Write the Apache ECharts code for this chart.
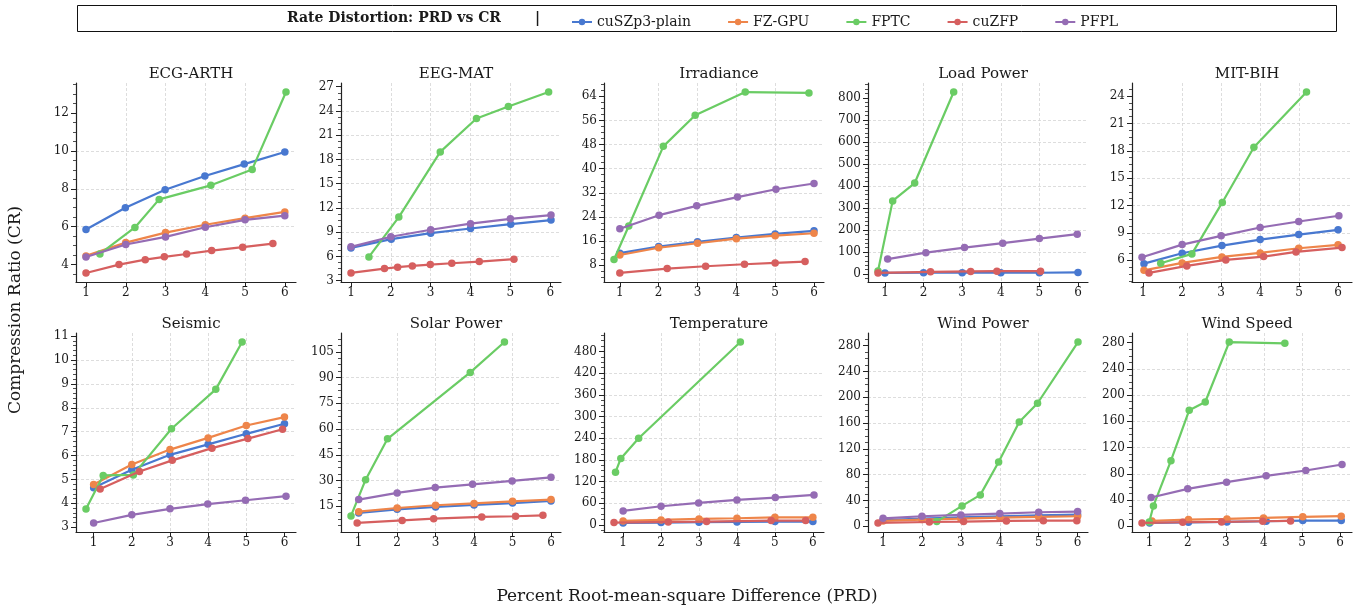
<!DOCTYPE html>
<html>
<head>
<meta charset="utf-8">
<script src="https://cdn.jsdelivr.net/npm/echarts@6/dist/echarts.min.js"></script>
<style>
  html, body { margin: 0; padding: 0; background: #ffffff; }
  #chart { width: 1354px; height: 611px; }
</style>
</head>
<body>
<div id="chart"></div>
<script>
// Compressors, in drawing order
const COMPRESSORS = ['cuSZp3-plain', 'FZ-GPU', 'FPTC', 'cuZFP', 'PFPL'];
const COLORS = ['#4878d0', '#ee854a', '#6acc64', '#d65f5f', '#956cb4'];

// Dataset names (panel titles)
const DATASETS = ['ECG-ARTH', 'EEG-MAT', 'Irradiance', 'Load Power', 'MIT-BIH',
                  'Seismic', 'Solar Power', 'Temperature', 'Wind Power', 'Wind Speed'];

// [PRD, CR] pairs per compressor, per dataset
const ecgArth = {
  'cuSZp3-plain': [[1.00, 5.85], [1.99, 7.00], [2.99, 7.95], [3.99, 8.67], [4.98, 9.30], [6.00, 9.94]],
  'FZ-GPU':       [[1.00, 4.46], [2.00, 5.16], [3.00, 5.69], [4.00, 6.10], [5.00, 6.45], [6.00, 6.78]],
  'FPTC':         [[1.35, 4.56], [2.23, 5.96], [2.84, 7.44], [4.14, 8.18], [5.18, 9.02], [6.03, 13.10]],
  'cuZFP':        [[1.00, 3.56], [1.83, 4.00], [2.49, 4.26], [2.97, 4.41], [3.53, 4.56], [4.16, 4.74], [4.94, 4.92], [5.70, 5.11]],
  'PFPL':         [[1.00, 4.40], [2.00, 5.06], [3.00, 5.46], [4.00, 5.97], [5.00, 6.36], [6.00, 6.58]]
};
const eegMat = {
  'cuSZp3-plain': [[1.00, 7.05], [2.01, 8.13], [3.00, 8.87], [4.00, 9.45], [5.01, 9.99], [6.02, 10.49]],
  'FPTC':         [[1.45, 5.94], [2.20, 10.86], [3.24, 18.93], [4.15, 23.07], [4.95, 24.56], [5.96, 26.34]],
  'cuZFP':        [[1.00, 3.95], [1.84, 4.49], [2.17, 4.66], [2.54, 4.82], [2.99, 4.99], [3.53, 5.15], [4.22, 5.36], [5.09, 5.65]],
  'PFPL':         [[1.00, 7.18], [2.00, 8.43], [3.00, 9.30], [4.00, 10.05], [5.00, 10.65], [6.02, 11.11]]
};
const irradiance = {
  'cuSZp3-plain': [[1.00, 12.0], [2.00, 14.2], [3.00, 15.8], [4.00, 17.2], [5.00, 18.4], [6.00, 19.4]],
  'FZ-GPU':       [[1.00, 11.4], [2.00, 13.8], [3.00, 15.3], [4.00, 16.8], [5.00, 17.8], [6.00, 18.6]],
  'FPTC':         [[0.85, 9.9], [1.23, 21.0], [2.12, 47.4], [2.94, 57.7], [4.23, 65.4], [5.87, 65.1]],
  'cuZFP':        [[1.00, 5.45], [2.22, 6.9], [3.21, 7.67], [4.21, 8.33], [5.00, 8.78], [5.77, 9.22]],
  'PFPL':         [[1.00, 20.1], [2.01, 24.6], [2.98, 27.7], [4.03, 30.6], [5.02, 33.2], [6.00, 35.1]]
};
const loadPower = {
  'cuSZp3-plain': [[1.00, 5], [2.00, 6], [3.00, 6], [4.00, 6], [5.00, 6], [6.00, 7.5]],
  'FPTC':         [[0.82, 14], [1.20, 332], [1.77, 413], [2.78, 826]],
  'cuZFP':        [[0.82, 5], [2.18, 10], [3.22, 12], [3.90, 13], [5.03, 13]],
  'PFPL':         [[1.07, 68], [2.06, 97], [3.06, 120], [4.05, 140], [5.00, 161], [5.98, 181]]
};
const mitBih = {
  'cuSZp3-plain': [[1.02, 5.63], [2.00, 6.77], [3.02, 7.61], [4.00, 8.27], [4.99, 8.82], [6.00, 9.34]],
  'FZ-GPU':       [[1.02, 4.90], [2.00, 5.71], [3.02, 6.37], [4.00, 6.81], [4.99, 7.32], [6.00, 7.69]],
  'FPTC':         [[1.45, 5.67], [2.25, 6.70], [3.03, 12.34], [3.84, 18.39], [5.19, 24.44]],
  'cuZFP':        [[1.15, 4.61], [2.12, 5.38], [3.12, 6.04], [4.09, 6.40], [4.92, 6.92], [6.10, 7.39]],
  'PFPL':         [[0.97, 6.33], [2.00, 7.72], [3.00, 8.68], [4.00, 9.59], [4.99, 10.25], [6.02, 10.88]]
};
const seismic = {
  'cuSZp3-plain': [[1.00, 4.65], [2.00, 5.41], [3.00, 6.03], [4.00, 6.47], [5.00, 6.91], [6.00, 7.33]],
  'FZ-GPU':       [[1.00, 4.79], [2.00, 5.63], [3.00, 6.25], [4.00, 6.74], [5.00, 7.26], [6.00, 7.61]],
  'FPTC':         [[0.80, 3.76], [1.25, 5.17], [2.04, 5.19], [3.04, 7.12], [4.20, 8.77], [4.89, 10.75]],
  'cuZFP':        [[1.17, 4.60], [2.20, 5.33], [3.06, 5.80], [4.10, 6.31], [5.04, 6.71], [5.95, 7.10]],
  'PFPL':         [[1.00, 3.18], [2.00, 3.52], [3.00, 3.77], [3.99, 3.97], [4.98, 4.13], [6.04, 4.30]]
};
const solarPower = {
  'cuSZp3-plain': [[1.00, 11.1], [2.00, 13.25], [3.00, 14.6], [4.00, 15.8], [5.00, 16.9], [6.00, 18.1]],
  'FZ-GPU':       [[1.00, 11.9], [2.00, 14.0], [3.00, 15.6], [4.00, 16.7], [5.00, 17.9], [6.00, 18.9]],
  'FPTC':         [[0.80, 9.4], [1.18, 30.5], [1.75, 54.3], [3.90, 93.0], [4.79, 110.7]],
  'cuZFP':        [[0.96, 5.3], [2.13, 6.8], [2.95, 7.8], [4.20, 8.8], [5.08, 9.2], [5.79, 9.75]],
  'PFPL':         [[1.00, 18.9], [2.00, 22.8], [2.99, 25.9], [3.96, 27.8], [4.99, 29.8], [6.00, 31.9]]
};
const temperature = {
  'cuSZp3-plain': [[1.00, 5.5], [2.00, 6.5], [3.00, 7.4], [4.00, 8.3], [5.00, 9.2], [6.00, 9.2]],
  'FZ-GPU':       [[1.00, 11], [2.00, 13.8], [3.00, 16.6], [4.00, 18.5], [5.00, 21], [6.00, 21]],
  'FPTC':         [[0.80, 146], [0.94, 184], [1.41, 240], [4.09, 506]],
  'cuZFP':        [[0.76, 6.5], [2.19, 8.3], [3.20, 9.2], [4.90, 12], [5.81, 12]],
  'PFPL':         [[1.00, 38.8], [2.00, 51.7], [2.99, 60.9], [4.00, 69.2], [5.01, 75.7], [6.03, 83]]
};
const windPower = {
  'cuSZp3-plain': [[1.00, 9.5], [2.00, 12], [3.00, 14], [4.00, 15.5], [5.00, 17], [6.00, 18]],
  'FZ-GPU':       [[1.00, 8.3], [2.00, 10.4], [3.00, 11.9], [4.00, 13.5], [5.00, 14.5], [6.00, 15.6]],
  'FPTC':         [[2.38, 7.3], [3.03, 31.6], [3.50, 48.7], [3.97, 99.6], [4.50, 161.8], [4.97, 190.8], [6.01, 285.7]],
  'cuZFP':        [[0.87, 5.2], [2.19, 6.7], [3.07, 7.3], [4.17, 8.3], [5.12, 8.8], [5.98, 8.8]],
  'PFPL':         [[1.00, 12.4], [2.00, 15.6], [3.00, 17.6], [4.00, 19.7], [5.00, 21.8], [6.00, 22.8]]
};
const windSpeed = {
  'cuSZp3-plain': [[1.00, 5], [2.02, 6], [3.03, 6.6], [4.06, 7.6], [5.02, 8.7], [6.03, 8.7]],
  'FZ-GPU':       [[1.06, 8.1], [2.02, 10.2], [3.03, 11.2], [3.99, 12.7], [5.02, 14.3], [6.03, 15.3]],
  'FPTC':         [[0.99, 6.6], [1.10, 31], [1.56, 100], [2.04, 177], [2.46, 189.5], [3.09, 281], [4.55, 279]],
  'cuZFP':        [[0.80, 5.1], [1.87, 6.1], [2.89, 6.6], [3.97, 7.6], [4.70, 8.1]],
  'PFPL':         [[1.04, 43.8], [2.00, 57], [3.02, 67.2], [4.06, 76.9], [5.10, 85], [6.05, 94.2]]
};
const PANEL_DATA = [ecgArth, eegMat, irradiance, loadPower, mitBih,
                    seismic, solarPower, temperature, windPower, windSpeed];

// Tick labels
const X_TICKS = [1, 2, 3, 4, 5, 6];
const Y_TICKS = [
  [4, 6, 8, 10, 12],
  [3, 6, 9, 12, 15, 18, 21, 24, 27],
  [8, 16, 24, 32, 40, 48, 56, 64],
  [0, 100, 200, 300, 400, 500, 600, 700, 800],
  [6, 9, 12, 15, 18, 21, 24],
  [3, 4, 5, 6, 7, 8, 9, 10, 11],
  [15, 30, 45, 60, 75, 90, 105],
  [0, 60, 120, 180, 240, 300, 360, 420, 480],
  [0, 40, 80, 120, 160, 200, 240, 280],
  [0, 40, 80, 120, 160, 200, 240, 280]
];
// minor subdivisions between major y ticks
const Y_MINOR_DIVS = [4, 4, 4, 5, 4, 5, 4, 4, 4, 4];

// ---- layout ----
const FONT = "'DejaVu Serif', serif";
const TEXT = '#1a1a1a';
const COL_LEFT = [76, 341, 604, 868, 1132];
const ROW_TOP = [83, 333];
const PANEL_W = 220;
const PANEL_H = 199;

// axis extent = data range padded by 5% on each side
function paddedExtent(panel, idx) {
  let lo = Infinity, hi = -Infinity;
  Object.values(panel).forEach(pts => pts.forEach(p => {
    lo = Math.min(lo, p[idx]); hi = Math.max(hi, p[idx]);
  }));
  const pad = (hi - lo) * 0.05;
  return [lo - pad, hi + pad];
}

const grids = [], xAxes = [], yAxes = [], titles = [], series = [];

PANEL_DATA.forEach((panel, i) => {
  const col = i % 5, row = Math.floor(i / 5);
  grids.push({ left: COL_LEFT[col], top: ROW_TOP[row], width: PANEL_W, height: PANEL_H });

  const xr = paddedExtent(panel, 0);
  const yr = paddedExtent(panel, 1);
  const yt = Y_TICKS[i];
  const yStep = yt[1] - yt[0];
  const xStep = X_TICKS[1] - X_TICKS[0];

  const gridLine = { show: true, showMinLine: false, showMaxLine: false,
                     lineStyle: { color: '#d4d4d4', width: 0.8, type: [3, 2] } };
  const axisLine = { show: true, onZero: false, lineStyle: { color: '#222', width: 1.2 } };

  // explicit tick values; min/maxInterval keeps the minor ticks on the same step
  xAxes.push({
    type: 'value', gridIndex: i, min: xr[0], max: xr[1],
    minInterval: xStep, maxInterval: xStep,
    axisLine,
    axisTick: { show: true, length: 5, customValues: X_TICKS, lineStyle: { color: '#222', width: 1 } },
    axisLabel: { customValues: X_TICKS, showMinLabel: true, showMaxLabel: true, hideOverlap: false,
                 color: TEXT, fontFamily: FONT, fontSize: 12, margin: 5 },
    splitLine: gridLine
  });
  yAxes.push({
    type: 'value', gridIndex: i, min: yr[0], max: yr[1],
    minInterval: yStep, maxInterval: yStep,
    axisLine,
    axisTick: { show: true, length: 5, customValues: yt, lineStyle: { color: '#222', width: 1 } },
    minorTick: { show: true, splitNumber: Y_MINOR_DIVS[i], length: 3, lineStyle: { color: '#222', width: 0.8 } },
    axisLabel: { customValues: yt, showMinLabel: true, showMaxLabel: true, hideOverlap: false,
                 color: TEXT, fontFamily: FONT, fontSize: 12, margin: 7 },
    splitLine: gridLine
  });
  titles.push({
    text: DATASETS[i],
    left: COL_LEFT[col] + PANEL_W / 2, top: ROW_TOP[row] - 21, textAlign: 'center',
    textStyle: { fontFamily: FONT, fontSize: 15, fontWeight: 'normal', color: TEXT }
  });

  COMPRESSORS.forEach((name, k) => {
    if (!panel[name]) return;
    series.push({
      name, type: 'line', xAxisIndex: i, yAxisIndex: i,
      data: panel[name],
      symbol: 'circle', symbolSize: 7.5, showSymbol: true,
      itemStyle: { color: COLORS[k] },
      lineStyle: { color: COLORS[k], width: 2.2 },
      emphasis: { disabled: true },
      animation: false, z: 2 + k
    });
  });
});

const chart = echarts.init(document.getElementById('chart'), null, { renderer: 'canvas' });
chart.setOption({
  backgroundColor: '#ffffff',
  animation: false,
  color: COLORS,
  title: titles,
  grid: grids,
  xAxis: xAxes,
  yAxis: yAxes,
  series,
  legend: {
    data: COMPRESSORS,
    left: 566, top: 10,
    itemWidth: 20, itemHeight: 8, itemGap: 36,
    textStyle: { fontFamily: FONT, fontSize: 14, color: TEXT, padding: [0, 0, 0, 0] },
    selectedMode: false
  },
  graphic: [
    { type: 'rect', shape: { x: 77.5, y: 5.5, width: 1259, height: 26 },
      style: { fill: 'none', stroke: '#111', lineWidth: 1 }, z: 0 },
    { type: 'text', x: 287, y: 18,
      style: { text: 'Rate Distortion: PRD vs CR', font: "bold 14px 'DejaVu Serif', serif",
               fill: TEXT, textVerticalAlign: 'middle' } },
    { type: 'text', x: 535, y: 18,
      style: { text: '|', font: "bold 14px 'DejaVu Serif', serif", fill: TEXT, textVerticalAlign: 'middle' } },
    { type: 'text', x: 16, y: 310, rotation: Math.PI / 2,
      style: { text: 'Compression Ratio (CR)', font: "17px 'DejaVu Serif', serif", fill: TEXT,
               textAlign: 'center', textVerticalAlign: 'middle' } },
    { type: 'text', x: 687, y: 597,
      style: { text: 'Percent Root-mean-square Difference (PRD)', font: "17px 'DejaVu Serif', serif", fill: TEXT,
               textAlign: 'center', textVerticalAlign: 'middle' } }
  ]
});
</script>
</body>
</html>
